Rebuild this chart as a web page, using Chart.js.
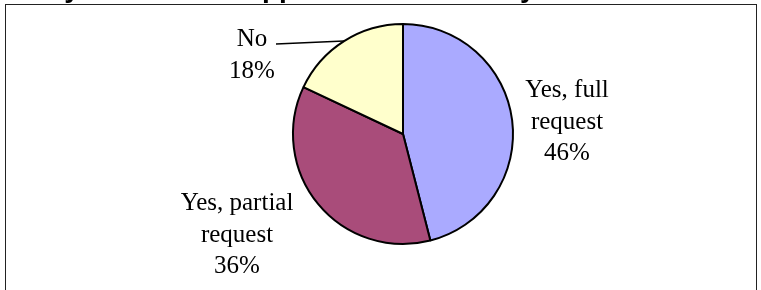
<!DOCTYPE html>
<html>
<head>
<meta charset="utf-8">
<script src="https://cdn.jsdelivr.net/npm/chart.js@4.4.0/dist/chart.umd.min.js"></script>
<style>
  body { margin: 0; background: #ffffff; }
  canvas { display: block; }
</style>
</head>
<body>
<canvas id="myChart" width="761" height="290"></canvas>
<script>
// chart data
var titleText = "Was your final bill approved in full this year?";
var categories = ["Yes, full request", "Yes, partial request", "No"];
var labelLines = [["Yes, full", "request"], ["Yes, partial", "request"], ["No"]];
var shares = [46, 36, 18];
var sliceColors = ['#AAAAFF', '#A94C7A', '#FFFFCC'];

// label placement relative to the pie centre (px): first baseline, line step
var labelSpots = [
    {dx: 164, dy: -37, leader: false},
    {dx: -166, dy: 76, leader: false},
    {dx: -151, dy: -88, leader: true}
];
var lineStep = 31.5;

// Frame, cut-off title and outside labels
var decorPlugin = {
    id: 'decor',
    beforeDraw: function(chart) {
        var ctx = chart.ctx;
        ctx.save();
        ctx.fillStyle = '#ffffff';
        ctx.fillRect(0, 0, chart.width, chart.height);
        ctx.strokeStyle = '#222222';
        ctx.lineWidth = 1;
        ctx.strokeRect(5.5, 4.5, 751, 300);
        ctx.fillStyle = '#000000';
        ctx.font = 'bold 28px "Liberation Sans"';
        ctx.textAlign = 'left';
        ctx.textBaseline = 'alphabetic';
        ctx.fillText(titleText, 0, -3);
        ctx.restore();
    },
    afterDatasetsDraw: function(chart) {
        var ctx = chart.ctx;
        var arcs = chart.getDatasetMeta(0).data;
        ctx.save();
        ctx.fillStyle = '#000000';
        ctx.font = '25px "Liberation Serif"';
        ctx.textAlign = 'center';
        ctx.textBaseline = 'alphabetic';
        arcs.forEach(function(arc, i) {
            var p = arc.getProps(['x', 'y', 'startAngle', 'endAngle', 'outerRadius'], true);
            var spot = labelSpots[i];
            var lx = p.x + spot.dx;
            var ly = p.y + spot.dy;
            var lines = labelLines[i].concat([shares[i] + '%']);
            lines.forEach(function(t, k) {
                ctx.fillText(t, lx, ly + k * lineStep);
            });
            if (spot.leader) {
                var mid = (p.startAngle + p.endAngle) / 2;
                var ex = p.x + Math.cos(mid) * p.outerRadius;
                var ey = p.y + Math.sin(mid) * p.outerRadius;
                ctx.strokeStyle = '#000000';
                ctx.lineWidth = 1.5;
                ctx.beginPath();
                ctx.moveTo(lx + 24, ly - 2);
                ctx.lineTo(ex, ey);
                ctx.stroke();
            }
        });
        ctx.restore();
    }
};

var ctx = document.getElementById("myChart");
var myChart = new Chart(ctx, {
    type: 'pie',
    data: {
        labels: categories,
        datasets: [{
            data: shares,
            backgroundColor: sliceColors,
            borderColor: '#000000',
            borderWidth: 2
        }]
    },
    options: {
        responsive: false,
        animation: false,
        events: [],
        layout: {
            padding: {left: 292, right: 247, top: 23, bottom: 45}
        },
        plugins: {
            legend: { display: false },
            tooltip: { enabled: false },
            title: { display: false }
        }
    },
    plugins: [decorPlugin]
});
</script>
</body>
</html>
